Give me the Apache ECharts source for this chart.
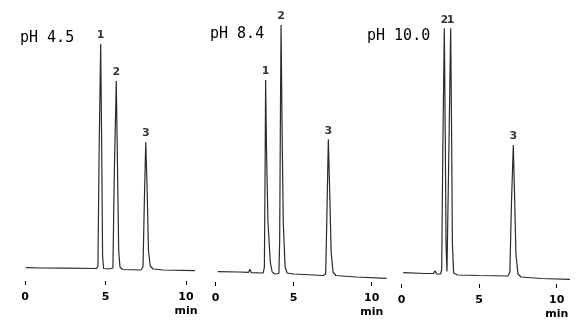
<!DOCTYPE html>
<html>
<head>
<meta charset="utf-8">
<script src="https://cdn.jsdelivr.net/npm/echarts@6/dist/echarts.min.js"></script>
<style>html,body{margin:0;padding:0;background:#fff;}#c{width:588px;height:324px;}</style>
</head>
<body>
<div id="c"></div>
<script>
// ---- data ----
const panelTitles = ['pH 4.5', 'pH 8.4', 'pH 10.0'];
const xTickValues = [0, 5, 10];

// chromatogram traces: [time (min), detector response (arb.)]
const trace45 = [[0.05,13.3],[1.0,13.0],[2.5,12.8],[4.45,12.5],[4.53,15],[4.6,125],[4.7,237],[4.76,140],[4.82,25],[4.88,12.5],[5.2,12],[5.46,13],[5.55,110],[5.67,200],[5.74,120],[5.82,30],[5.9,14],[6.05,11.5],[7.2,11],[7.33,14],[7.42,85],[7.5,139],[7.58,95],[7.67,30],[7.78,15],[7.95,12],[8.6,11],[10.55,10.3]];
const trace84 = [[0.13,10.3],[1.5,10],[2.1,9.6],[2.2,12.7],[2.28,9.3],[3.05,9],[3.12,15],[3.17,120],[3.2,202],[3.26,130],[3.35,60],[3.5,20],[3.62,10],[3.8,8],[4.05,8.5],[4.1,40],[4.15,170],[4.19,257],[4.25,160],[4.33,60],[4.45,15],[4.58,9],[5.0,8],[6.9,6.5],[7.05,8],[7.12,60],[7.22,142.7],[7.3,95],[7.4,30],[7.52,10],[7.7,6.5],[9,5],[10.95,3.7]];
const trace100 = [[0.1,11.3],[1.5,10.5],[2.05,10.5],[2.15,13.3],[2.25,10],[2.36,9],[2.5,10],[2.58,14],[2.65,130],[2.75,255.7],[2.81,150],[2.86,40],[2.92,12.5],[2.97,14],[3.04,130],[3.16,255.7],[3.22,150],[3.27,40],[3.35,11],[3.6,9],[5,8.5],[6.85,8],[6.98,12],[7.08,80],[7.2,139],[7.28,90],[7.37,30],[7.5,10],[7.7,7],[9,5.5],[10.86,4.7]];

// peak labels
const peakNames45 = ['1', '2', '3'];
const peakTimes45 = [4.7, 5.67, 7.5];
const peakHeights45 = [237, 200, 139];
const peakNames84 = ['1', '2', '3'];
const peakTimes84 = [3.2, 4.19, 7.22];
const peakHeights84 = [202, 257, 142.7];
const peakNames100 = ['2', '1', '3'];
const peakTimes100 = [2.75, 3.16, 7.2];
const peakHeights100 = [255.7, 255.7, 139];

// ---- chart ----
const traces = [trace45, trace84, trace100];
const peakSets = [
  [peakNames45, peakTimes45, peakHeights45],
  [peakNames84, peakTimes84, peakHeights84],
  [peakNames100, peakTimes100, peakHeights100]
];
const grids = [
  {left: 25, width: 177.1, top: 21, height: 260},
  {left: 215.7, width: 171.6, top: 22, height: 260},
  {left: 401.7, width: 170.5, top: 24, height: 260}
];
const titlePos = [[20, 40], [210, 36], [367, 38]];
const FONT = '"DejaVu Sans", sans-serif';

const option = {
  animation: false,
  backgroundColor: '#fff',
  grid: grids.map(g => Object.assign({containLabel: false}, g)),
  xAxis: grids.map((g, i) => ({
    type: 'value', gridIndex: i, min: 0, max: 11,
    axisLine: {show: false},
    splitLine: {show: false},
    axisTick: {show: true, length: 4, customValues: xTickValues, lineStyle: {color: '#000', width: 1}},
    axisLabel: {
      show: true, customValues: xTickValues, margin: 9,
      fontFamily: FONT, fontWeight: 'bold', fontSize: 11, color: '#000', lineHeight: 14,
      formatter: v => v === 10 ? '10\nmin' : String(v)
    }
  })),
  yAxis: grids.map((g, i) => ({
    type: 'value', gridIndex: i, min: 0, max: 260, show: false
  })),
  graphic: panelTitles.map((t, i) => ({
    type: 'text', left: titlePos[i][0], top: titlePos[i][1] - 9,
    style: {text: t, font: '15px "DejaVu Sans Mono", monospace', fill: '#000'}
  })),
  series: [
    ...traces.map((tr, i) => ({
      type: 'line', xAxisIndex: i, yAxisIndex: i, data: tr,
      showSymbol: false, symbol: 'none', smooth: false,
      lineStyle: {color: '#2a2a2a', width: 1.2}
    })),
    ...peakSets.map((p, i) => ({
      type: 'scatter', xAxisIndex: i, yAxisIndex: i, symbolSize: 0,
      data: p[0].map((n, k) => [p[1][k], p[2][k], n]),
      label: {
        show: true, position: 'top', distance: 3,
        formatter: d => d.value[2],
        fontFamily: FONT, fontWeight: 'bold', fontSize: 11, color: '#000'
      }
    }))
  ]
};
const chart = echarts.init(document.getElementById('c'), null, {renderer: 'canvas'});
chart.setOption(option);
</script>
</body>
</html>
